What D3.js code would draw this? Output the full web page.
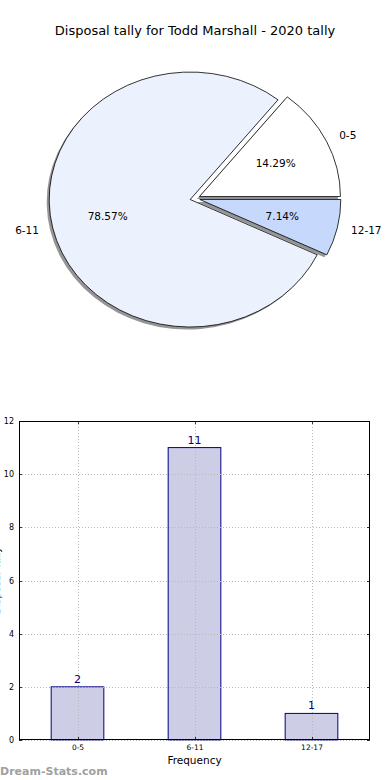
<!DOCTYPE html>
<html><head><meta charset="utf-8">
<script src="https://cdnjs.cloudflare.com/ajax/libs/d3/7.8.5/d3.min.js"></script>
<style>
body{margin:0;background:#fff;}
svg{display:block;font-family:"DejaVu Sans",sans-serif;}
</style></head>
<body>
<svg id="c" width="390" height="780"></svg>
<script>
const title = "Disposal tally for Todd Marshall - 2020 tally";
const categories = ["0-5", "6-11", "12-17"];
const values = [2, 11, 1];
const sliceColors = ["#ffffff", "#ebf1fd", "#c6d9fd"];
const yTicks = [0, 2, 4, 6, 8, 10, 12];
const xLabel = "Frequency";
const yLabel = "Disposal Tally";
const watermark = "Dream-Stats.com";

const svg = d3.select("#c");

// Title
svg.append("text").attr("x", 195).attr("y", 35).attr("text-anchor", "middle")
  .attr("font-size", 13).attr("fill", "#000").text(title);

// ---------- Pie ----------
const cx = 195, cy = 198.5, rx = 141, ry = 127.5, explode = 0.035;
const total = d3.sum(values);
const pie = d3.pie().sort(null).startAngle(Math.PI / 2).endAngle(Math.PI / 2 - 2 * Math.PI);
const arcs = pie(values);
const arcGen = d3.arc().innerRadius(0).outerRadius(1);
const gPie = svg.append("g");

arcs.forEach((a, i) => {
  const mid = (a.startAngle + a.endAngle) / 2;
  const ux = Math.sin(mid), uy = -Math.cos(mid);
  const ox = cx + explode * rx * ux, oy = cy + explode * ry * uy;
  gPie.append("path").attr("d", arcGen(a))
    .attr("transform", `translate(${ox - 2.5},${oy + 2.5}) scale(${rx},${ry})`)
    .attr("fill", "#8a8a8a").attr("opacity", 0.9);
});
arcs.forEach((a, i) => {
  const mid = (a.startAngle + a.endAngle) / 2;
  const ux = Math.sin(mid), uy = -Math.cos(mid);
  const ox = cx + explode * rx * ux, oy = cy + explode * ry * uy;
  gPie.append("path").attr("d", arcGen(a))
    .attr("transform", `translate(${ox},${oy}) scale(${rx},${ry})`)
    .attr("fill", sliceColors[i]).attr("stroke", "#000").attr("stroke-width", 0.8)
    .attr("vector-effect", "non-scaling-stroke");
  const lx = ox + 1.1 * rx * ux, ly = oy + 1.1 * ry * uy;
  gPie.append("text").attr("x", lx).attr("y", ly).attr("dy", "0.35em")
    .attr("text-anchor", ux > 0 ? "start" : "end")
    .attr("font-size", 10.5).text(categories[i]);
  const px = ox + 0.6 * rx * ux, py = oy + 0.6 * ry * uy;
  gPie.append("text").attr("x", px).attr("y", py).attr("dy", "0.35em")
    .attr("text-anchor", "middle").attr("font-size", 10.5)
    .text((values[i] / total * 100).toFixed(2) + "%");
});

// ---------- Bar ----------
const L = 19, R = 370, T = 421, B = 740;
const x = d3.scaleLinear().domain([-0.5, categories.length - 0.5]).range([L, R]);
const y = d3.scaleLinear().domain([0, 12]).range([B, T]);
const bw = 0.45;
const gBar = svg.append("g");

categories.forEach((c, i) => {
  gBar.append("rect").attr("x", x(i - bw / 2)).attr("y", y(values[i]))
    .attr("width", x(i + bw / 2) - x(i - bw / 2)).attr("height", y(0) - y(values[i]))
    .attr("fill", "#cdcde6").attr("stroke", "#000080").attr("stroke-width", 1);
});

const grid = svg.append("g").attr("stroke", "#b8b8b8").attr("stroke-width", 1).attr("stroke-dasharray", "1,2");
yTicks.forEach(t => {
  grid.append("line").attr("x1", L).attr("x2", R).attr("y1", Math.round(y(t)) + 0.5).attr("y2", Math.round(y(t)) + 0.5);
});
categories.forEach((c, i) => {
  grid.append("line").attr("x1", Math.round(x(i)) + 0.5).attr("x2", Math.round(x(i)) + 0.5).attr("y1", T).attr("y2", B);
});

categories.forEach((c, i) => {
  svg.append("text").attr("x", x(i)).attr("y", y(values[i]) - 4).attr("text-anchor", "middle")
    .attr("font-size", 11).attr("fill", "#000080").text(values[i]);
});

const yAxis = d3.axisLeft(y).tickValues(yTicks).tickSize(0).tickPadding(5);
const gy = svg.append("g").attr("transform", `translate(${L},0)`).call(yAxis);
gy.select(".domain").remove();
gy.selectAll("text").attr("font-size", 8).attr("font-family", "DejaVu Sans, sans-serif").attr("fill", "#000");

const xAxis = d3.axisBottom(x).tickValues(d3.range(categories.length)).tickFormat(i => categories[i]).tickSize(0).tickPadding(5);
const gx = svg.append("g").attr("transform", `translate(0,${B})`).call(xAxis);
gx.select(".domain").remove();
gx.selectAll("text").attr("font-size", 7.5).attr("font-family", "DejaVu Sans, sans-serif").attr("fill", "#000");

const tk = svg.append("g").attr("stroke", "#000").attr("stroke-width", 0.8);
yTicks.forEach(t => {
  const yy = Math.round(y(t)) + 0.5;
  tk.append("line").attr("x1", L).attr("x2", L + 3).attr("y1", yy).attr("y2", yy);
  tk.append("line").attr("x1", R - 3).attr("x2", R).attr("y1", yy).attr("y2", yy);
});
categories.forEach((c, i) => {
  const xx = Math.round(x(i)) + 0.5;
  tk.append("line").attr("x1", xx).attr("x2", xx).attr("y1", B - 3).attr("y2", B);
  tk.append("line").attr("x1", xx).attr("x2", xx).attr("y1", T).attr("y2", T + 3);
});

svg.append("rect").attr("x", L + 0.5).attr("y", T + 0.5).attr("width", R - L - 1).attr("height", B - T - 1)
  .attr("fill", "none").attr("stroke", "#000").attr("stroke-width", 1);

svg.append("text").attr("x", (L + R) / 2).attr("y", 764).attr("text-anchor", "middle")
  .attr("font-size", 10.5).text(xLabel);
svg.append("text").attr("transform", `translate(0,${(T + B) / 2}) rotate(-90)`)
  .attr("text-anchor", "middle").attr("font-size", 10).text(yLabel);

svg.append("text").attr("x", 0).attr("y", 775).attr("font-size", 11).attr("font-weight", "bold")
  .attr("fill", "#a0a0a0").text(watermark);
</script>
</body></html>
